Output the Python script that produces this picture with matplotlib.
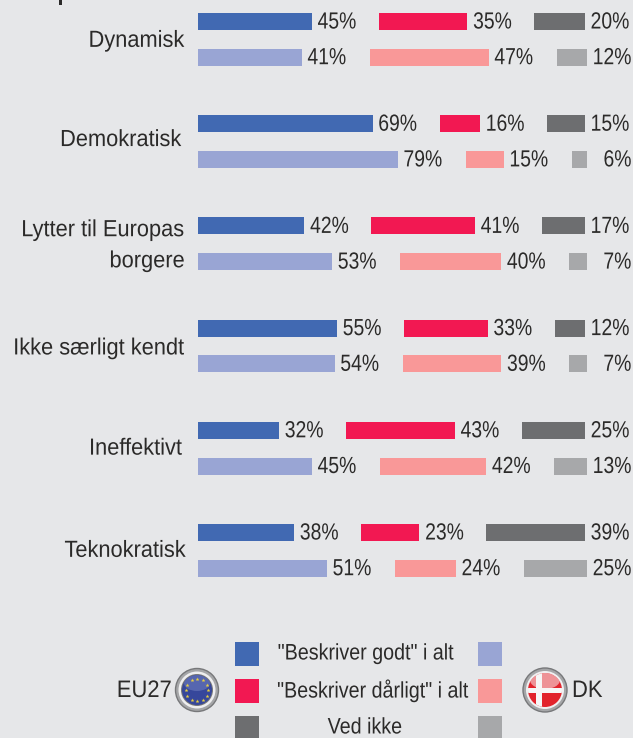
import numpy as np
import matplotlib
matplotlib.use("Agg")
import matplotlib.pyplot as plt
from matplotlib.patches import Circle, Ellipse, Rectangle
from matplotlib.patheffects import AbstractPathEffect
from matplotlib.transforms import Affine2D

plt.rcParams['font.family'] = ['Liberation Sans', 'DejaVu Sans']

categories = ["Dynamisk", "Demokratisk", "Lytter til Europas\nborgere",
              "Ikke særligt kendt", "Ineffektivt", "Teknokratisk"]
eu_good = [45, 69, 42, 55, 32, 38]
eu_bad = [35, 16, 41, 33, 43, 23]
eu_dk = [20, 15, 17, 12, 25, 39]
dk_good = [41, 79, 53, 54, 45, 51]
dk_bad = [47, 15, 40, 39, 42, 24]
dk_dk = [12, 6, 7, 7, 13, 25]
legend_labels = ['"Beskriver godt" i alt', '"Beskriver dårligt" i alt', 'Ved ikke']
legend_x = [366, 373, 365]
label_dy = [1, -2, 1.5, 2, 0, 0]
label_right = [184.5, 181.5, 185, 184.5, 182.5, 186]

bg = '#e6e7e9'
text_col = '#2b2a29'
eu_colors = ['#4169b2', '#f21852', '#6d6e70']
dk_colors = ['#99a5d4', '#f99898', '#a7a8aa']

W, H = 633, 738
fig = plt.figure(figsize=(W / 100, H / 100), dpi=100, facecolor=bg)
ax = fig.add_axes([0, 0, 1, 1])
ax.set_xlim(0, W)
ax.set_ylim(H, 0)
ax.axis('off')

px = 2.53  # pixels per percent
first_row = 21.5
row_step = 102.2
pair_step = 35.7


class Squeeze(AbstractPathEffect):
    # the reference font is narrower than Arial, squeeze x around the anchor
    def __init__(self, pivot, sx):
        super().__init__()
        self.pivot = pivot
        self.sx = sx

    def draw_path(self, renderer, gc, tpath, affine, rgbFace=None):
        t = Affine2D().translate(-self.pivot, 0).scale(self.sx, 1).translate(self.pivot, 0)
        renderer.draw_path(gc, tpath, affine + t, rgbFace)


def narrow_text(x, y, s, sx, **kw):
    t = ax.text(x, y, s, color=text_col, **kw)
    pivot = ax.transData.transform((x, y))[0]
    t.set_path_effects([Squeeze(pivot, sx)])
    return t


def draw_row(y, values, colors, gap):
    x = 198
    for v, c in zip(values, colors):
        w = v * px
        ax.barh(y, w, height=17, left=x, color=c, linewidth=0)
        narrow_text(x + w + 44.5, y + 0.5, "%d%%" % v, 0.83, ha='right', va='center', fontsize=16.8)
        x += w + gap


for i, cat in enumerate(categories):
    y = first_row + i * row_step
    draw_row(y, [eu_good[i], eu_bad[i], eu_dk[i]], eu_colors, 67)
    draw_row(y + pair_step, [dk_good[i], dk_bad[i], dk_dk[i]], dk_colors, 68)
    narrow_text(label_right[i], y + pair_step / 2 + label_dy[i], cat, 0.935, ha='right', va='center',
                fontsize=16.8, linespacing=1.45, multialignment='right')

# legend
for i, lab in enumerate(legend_labels):
    y = 654 + i * 37
    ax.add_patch(Rectangle((235, y - 12), 24, 24, color=eu_colors[i], linewidth=0))
    ax.add_patch(Rectangle((478, y - 12), 24, 24, color=dk_colors[i], linewidth=0))
    narrow_text(legend_x[i], y, lab, 0.875, ha='center', va='center', fontsize=16.2)

narrow_text(172, 691, "EU27", 0.92, ha='right', va='center', fontsize=17.2)
narrow_text(572, 691, "DK", 0.92, ha='left', va='center', fontsize=17.2)

# what is left of the cut off heading
ax.add_patch(Rectangle((59, 0), 3, 5, fc=text_col, lw=0))

# EU flag
ax.add_patch(Circle((197, 690), 21.5, fc='#a5a6a8', ec='#77787a', lw=1))
ax.add_patch(Circle((197, 690), 18.5, fc='#eeeeef', lw=0))
ax.add_patch(Circle((197, 690), 16, fc='#77787a', lw=0))
eu_disc = Circle((197, 690), 15, fc='#36479b', lw=0)
ax.add_patch(eu_disc)
shine = Ellipse((197, 683), 26, 16, fc='#7f8cc8', alpha=0.45, lw=0)
ax.add_patch(shine)
shine.set_clip_path(eu_disc)
for a in np.arange(0, 360, 30):
    ax.plot(197 + 11 * np.cos(np.radians(a)), 690 + 11 * np.sin(np.radians(a)),
            marker='*', ms=3, color='#e8d040', mew=0)

# DK flag
ax.add_patch(Circle((545, 690), 22, fc='#a5a6a8', ec='#77787a', lw=1))
ax.add_patch(Circle((545, 690), 19, fc='#f0f0f1', lw=0))
dk_disc = Circle((545, 690), 17, fc='#e2232c', lw=0)
ax.add_patch(dk_disc)
dk_shine = Ellipse((545, 680), 30, 18, fc='#f4c4c6', alpha=0.7, lw=0)
ax.add_patch(dk_shine)
dk_shine.set_clip_path(dk_disc)
for r in [Rectangle((536, 665), 6, 50, fc='#f6f6f6', lw=0), Rectangle((520, 688), 50, 5, fc='#f6f6f6', lw=0)]:
    ax.add_patch(r)
    r.set_clip_path(dk_disc)

fig.savefig('out.png', dpi=100, facecolor=bg)
